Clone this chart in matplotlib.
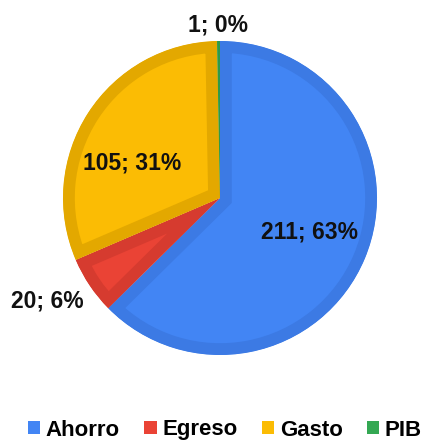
import numpy as np
import matplotlib
matplotlib.use("Agg")
import matplotlib.pyplot as plt
from matplotlib.patches import Patch

plt.rcParams["font.family"] = ["Liberation Sans", "DejaVu Sans"]

# data
categories = ["Ahorro", "Egreso", "Gasto", "PIB"]
values = [211, 20, 105, 1]
pct_labels = ["63%", "6%", "31%", "0%"]

FILL = ["#4285F4", "#EA4335", "#FBBC04", "#34A853"]
EDGE = ["#3C7AE4", "#D63B2F", "#E3A800", "#2E9A4A"]

W, H = 423, 441
fig = plt.figure(figsize=(W / 100, H / 100), dpi=100)
ax = fig.add_axes([0, 0, 1, 1])

cx, cy, R = 220, H - 198, 157
wedges, _ = ax.pie(values, colors=FILL, startangle=90, counterclock=False,
                   center=(cx, cy), radius=R, frame=True,
                   wedgeprops=dict(edgecolor="none"))
ax.set_xlim(0, W)
ax.set_ylim(0, H)
ax.set_aspect("equal")
ax.axis("off")

# darker inner border: stroke clipped to the wedge itself
for w, ec in zip(wedges, EDGE):
    w.set_edgecolor(ec)
    w.set_linewidth(17)
    w.set_clip_on(True)
    w.set_clip_path(w)

# label placement: (radius factor, angle nudge in degrees)
place = [(0.61, 2), (1.28, -3), (0.60, 11), (1.10, 0)]
for w, v, p, (rf, nudge) in zip(wedges, values, pct_labels, place):
    mid = np.deg2rad((w.theta1 + w.theta2) / 2 + nudge)
    x = cx + rf * R * np.cos(mid)
    y = cy + rf * R * np.sin(mid)
    ax.text(x, y, f"{v}; {p}", ha="center", va="center",
            fontsize=16.5, fontweight="bold", color="#111111")

handles = [Patch(facecolor=c, edgecolor="none") for c in FILL]
fig.legend(handles, categories, loc="center", bbox_to_anchor=(0.532, 1 - 430 / H),
           ncol=4, frameon=False,
           prop=dict(weight="bold", size=16),
           handlelength=0.55, handleheight=0.55, handletextpad=0.25,
           columnspacing=1.1)

fig.savefig("out.png", dpi=100)
